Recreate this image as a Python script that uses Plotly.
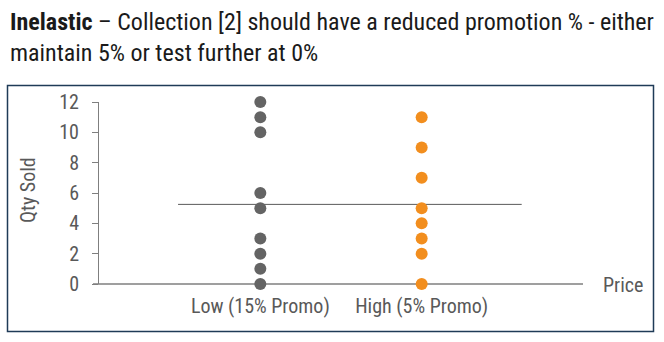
import plotly.graph_objects as go

# Price categories and quantities sold at each price point
categories = ["Low (15% Promo)", "High (5% Promo)"]
low_qty = [12, 11, 10, 6, 5, 3, 2, 1, 0]
high_qty = [11, 9, 7, 5, 4, 3, 2, 0]
average_qty = 5.25
y_ticks = [0, 2, 4, 6, 8, 10, 12]

W, H = 664, 342
L, R, T, B = 99, 583, 102, 284  # plot area in pixels

FONT = "Roboto Condensed, Arial Narrow, Liberation Sans Narrow, sans-serif"
GREY = "#646464"
ORANGE = "#F28E1E"
TEXT = "#595959"


def px_x(p):
    return (p - L) / (R - L)


def px_y(p):
    return (B - p) / (B - T)


fig = go.Figure()

# average line across both groups
fig.add_trace(go.Scatter(
    x=[0.49, 2.62], y=[average_qty, average_qty], mode="lines",
    line=dict(color="#595959", width=1), hoverinfo="skip", showlegend=False,
))

fig.add_trace(go.Scatter(
    x=[1] * len(low_qty), y=low_qty, mode="markers",
    marker=dict(color=GREY, size=12), cliponaxis=False, showlegend=False,
))
fig.add_trace(go.Scatter(
    x=[2] * len(high_qty), y=high_qty, mode="markers",
    marker=dict(color=ORANGE, size=12), cliponaxis=False, showlegend=False,
))

fig.update_layout(
    width=W, height=H,
    margin=dict(l=L, r=W - R, t=T, b=H - B, pad=0),
    paper_bgcolor="white", plot_bgcolor="white",
    font=dict(family=FONT, color=TEXT, size=20),
    xaxis=dict(
        range=[0, 3], tickmode="array", tickvals=[1, 2], ticktext=categories,
        showgrid=False, zeroline=False, showline=False, ticks="",
        tickfont=dict(size=20, color=TEXT), ticklabelstandoff=8,
        fixedrange=True,
    ),
    yaxis=dict(
        range=[0, 12], tickmode="array", tickvals=y_ticks,
        showgrid=False, zeroline=False, showline=True, linecolor="#7f7f7f",
        linewidth=1, ticks="outside", ticklen=6, tickcolor="#7f7f7f",
        tickfont=dict(size=20, color=TEXT), ticklabelstandoff=9,
        fixedrange=True,
    ),
    shapes=[
        # outer frame
        dict(type="rect", xref="paper", yref="paper",
             x0=px_x(7.5), x1=px_x(653.5), y0=px_y(331.5), y1=px_y(85.5),
             line=dict(color="#1F3B57", width=1.5), fillcolor="rgba(0,0,0,0)",
             layer="below"),
        # horizontal price axis
        dict(type="line", xref="paper", yref="paper",
             x0=px_x(93), x1=px_x(583), y0=0, y1=0,
             line=dict(color="#7f7f7f", width=1.5), layer="below"),
    ],
    annotations=[
        dict(text="<b>Inelastic</b> – Collection [2] should have a reduced promotion % - either"
                  "<br>maintain 5% or test further at 0%",
             xref="paper", yref="paper", x=px_x(8), y=px_y(6),
             xanchor="left", yanchor="top", align="left", showarrow=False,
             font=dict(family=FONT, size=24, color="#1a1a1a")),
        dict(text="Qty Sold", textangle=-90, xref="paper", yref="paper",
             x=px_x(28), y=px_y(190), xanchor="center", yanchor="middle",
             showarrow=False, font=dict(size=20, color=TEXT)),
        dict(text="Price", xref="paper", yref="paper",
             x=px_x(601), y=px_y(285), xanchor="left", yanchor="middle",
             showarrow=False, font=dict(size=20, color=TEXT)),
    ],
)

fig.write_html("out.html")
